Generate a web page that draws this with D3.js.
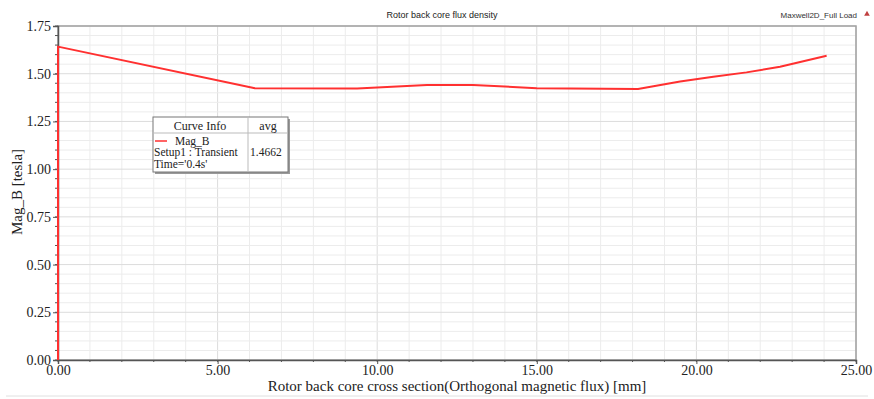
<!DOCTYPE html>
<html>
<head>
<meta charset="utf-8">
<script src="https://cdn.jsdelivr.net/npm/d3@7"></script>
<style>
  body { margin: 0; background: #fff; }
  svg { display: block; }
</style>
</head>
<body>
<div id="chart"></div>
<script>
// curve points
var xValues = [0, 0, 6.17, 9.37, 11.56, 13.0, 15.0, 18.17, 19.49, 20.53, 21.57, 22.62, 24.08];
var yValues = [0, 1.642, 1.424, 1.422, 1.441, 1.441, 1.424, 1.42, 1.459, 1.484, 1.507, 1.536, 1.594];
var xTicks = [0, 5, 10, 15, 20, 25];
var yTicks = [0, 0.25, 0.5, 0.75, 1.0, 1.25, 1.5, 1.75];
var legendRows = ["Mag_B", "Setup1 : Transient", "Time='0.4s'"];
var avgValue = "1.4662";

var width = 874, height = 399;
var margin = {top: 26, right: 18, bottom: 39, left: 58};

var svg = d3.select("#chart").append("svg")
  .attr("width", width)
  .attr("height", height);

var x = d3.scaleLinear().domain([0, 25]).range([margin.left, width - margin.right]);
var y = d3.scaleLinear().domain([0, 1.75]).range([height - margin.bottom, margin.top]);

// minor grid
var xMinor = d3.range(0, 25.01, 1);
var yMinor = d3.range(0, 1.7501, 0.05);

svg.append("g").selectAll("line").data(xMinor).enter().append("line")
  .attr("x1", d => x(d)).attr("x2", d => x(d))
  .attr("y1", y(0)).attr("y2", y(1.75))
  .attr("stroke", d => (Math.round(d) % 5 == 0) ? "#dcdcdc" : "#ececec")
  .attr("stroke-width", 1);

svg.append("g").selectAll("line").data(yMinor).enter().append("line")
  .attr("x1", x(0)).attr("x2", x(25))
  .attr("y1", d => y(d)).attr("y2", d => y(d))
  .attr("stroke", d => (Math.round(d * 100) % 25 == 0) ? "#dcdcdc" : "#ececec")
  .attr("stroke-width", 1);

// frame
svg.append("rect")
  .attr("x", x(0)).attr("y", y(1.75))
  .attr("width", x(25) - x(0)).attr("height", y(0) - y(1.75))
  .attr("fill", "none").attr("stroke", "#a0a0a0").attr("stroke-width", 1.5);

// axes
var xAxis = svg.append("g")
  .attr("transform", "translate(0," + y(0) + ")")
  .call(d3.axisBottom(x).tickValues(xTicks).tickFormat(d3.format(".2f")).tickSize(4).tickPadding(1));
var yAxis = svg.append("g")
  .attr("transform", "translate(" + x(0) + ",0)")
  .call(d3.axisLeft(y).tickValues(yTicks).tickFormat(d3.format(".2f")).tickSize(5).tickPadding(2));

[xAxis, yAxis].forEach(function(a) {
  a.select(".domain").attr("stroke", "#555").attr("stroke-width", 1.5);
  a.selectAll(".tick line").attr("stroke", "#555");
  a.selectAll("text")
    .attr("fill", "#222")
    .style("font-family", "'Liberation Serif', 'Times New Roman', serif")
    .style("font-size", "14px");
});

// minor ticks
svg.append("g").selectAll("line").data(xMinor).enter().append("line")
  .attr("x1", d => x(d)).attr("x2", d => x(d))
  .attr("y1", y(0)).attr("y2", y(0) + 2)
  .attr("stroke", "#555");
svg.append("g").selectAll("line").data(yMinor).enter().append("line")
  .attr("x1", x(0) - 3).attr("x2", x(0))
  .attr("y1", d => y(d)).attr("y2", d => y(d))
  .attr("stroke", "#555");

// curve
var pts = xValues.map((v, i) => [v, yValues[i]]);
svg.append("path")
  .datum(pts)
  .attr("fill", "none")
  .attr("stroke", "#ff3030")
  .attr("stroke-width", 2)
  .attr("stroke-linejoin", "round")
  .attr("d", d3.line().x(d => x(d[0])).y(d => y(d[1])));

// titles
svg.append("text")
  .attr("x", 442).attr("y", 18)
  .attr("text-anchor", "middle")
  .style("font-family", "'Liberation Sans', Arial, sans-serif")
  .style("font-size", "9px")
  .attr("fill", "#222")
  .text("Rotor back core flux density");

svg.append("text")
  .attr("x", 857).attr("y", 18)
  .attr("text-anchor", "end")
  .style("font-family", "'Liberation Sans', Arial, sans-serif")
  .style("font-size", "8px")
  .attr("fill", "#333")
  .text("Maxwell2D_Full Load");

svg.append("path")
  .attr("d", d3.symbol().type(d3.symbolTriangle).size(14))
  .attr("transform", "translate(867,14)")
  .attr("fill", "#c04040");

svg.append("text")
  .attr("x", 457).attr("y", 391)
  .attr("text-anchor", "middle")
  .style("font-family", "'Liberation Serif', 'Times New Roman', serif")
  .style("font-size", "15px")
  .attr("fill", "#222")
  .text("Rotor back core cross section(Orthogonal magnetic flux) [mm]");

svg.append("text")
  .attr("transform", "translate(22,192) rotate(-90)")
  .attr("text-anchor", "middle")
  .style("font-family", "'Liberation Serif', 'Times New Roman', serif")
  .style("font-size", "15px")
  .attr("fill", "#222")
  .text("Mag_B [tesla]");

// bottom rule
svg.append("line")
  .attr("x1", 6).attr("x2", 868).attr("y1", 396).attr("y2", 396)
  .attr("stroke", "#e0e0e0");

// legend box
var lg = svg.append("g").attr("transform", "translate(153,117)");
var lw = 135, lh = 55;
lg.append("rect").attr("x", 2).attr("y", 2).attr("width", lw).attr("height", lh)
  .attr("fill", "#999");
lg.append("rect").attr("x", 0).attr("y", 0).attr("width", lw).attr("height", lh)
  .attr("fill", "#fff").attr("stroke", "#777").attr("stroke-width", 1);
lg.append("line").attr("x1", 0).attr("x2", lw).attr("y1", 16).attr("y2", 16)
  .attr("stroke", "#bbb");
lg.append("line").attr("x1", 95).attr("x2", 95).attr("y1", 0).attr("y2", lh)
  .attr("stroke", "#bbb");

var serif = "'Liberation Serif', 'Times New Roman', serif";
lg.append("text").attr("x", 47).attr("y", 13).attr("text-anchor", "middle")
  .style("font-family", serif).style("font-size", "12px").attr("fill", "#222").text("Curve Info");
lg.append("text").attr("x", 115).attr("y", 13).attr("text-anchor", "middle")
  .style("font-family", serif).style("font-size", "12px").attr("fill", "#222").text("avg");
lg.append("line").attr("x1", 2).attr("x2", 14).attr("y1", 24).attr("y2", 24)
  .attr("stroke", "#ff3030").attr("stroke-width", 1.5);
lg.append("text").attr("x", 22).attr("y", 27.5)
  .style("font-family", serif).style("font-size", "11.5px").attr("fill", "#222").text(legendRows[0]);
lg.append("text").attr("x", 1).attr("y", 39)
  .style("font-family", serif).style("font-size", "11.5px").attr("fill", "#222").text(legendRows[1]);
lg.append("text").attr("x", 97).attr("y", 39)
  .style("font-family", serif).style("font-size", "11.5px").attr("fill", "#222").text(avgValue);
lg.append("text").attr("x", 1).attr("y", 50.5)
  .style("font-family", serif).style("font-size", "11.5px").attr("fill", "#222").text(legendRows[2]);
</script>
</body>
</html>
